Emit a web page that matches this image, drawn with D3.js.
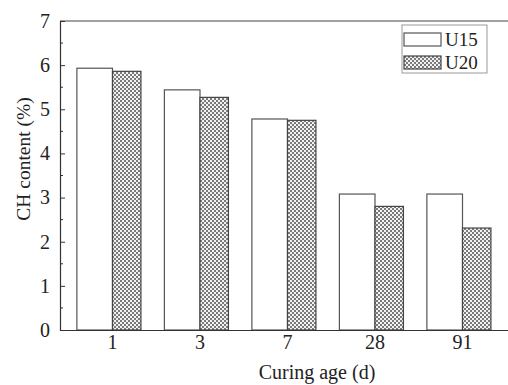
<!DOCTYPE html>
<html><head><meta charset="utf-8">
<script src="https://cdn.jsdelivr.net/npm/d3@7"></script>
<style>body{margin:0;background:#fff}svg{display:block}</style>
</head><body><div id="chart"></div>
<script>
const categories = ["1", "3", "7", "28", "91"];
const seriesNames = ["U15", "U20"];
const u15 = [5.93, 5.44, 4.78, 3.08, 3.08];
const u20 = [5.86, 5.27, 4.75, 2.80, 2.31];
const yTicks = [0, 1, 2, 3, 4, 5, 6, 7];

(function () {
const W = 508, H = 385;
const svg = d3.select("#chart").append("svg").attr("width", W).attr("height", H)
  .style("font-family", "'Liberation Serif', 'Times New Roman', serif");

const defs = svg.append("defs");
const pat = defs.append("pattern").attr("id", "chk").attr("patternUnits", "userSpaceOnUse")
  .attr("width", 4).attr("height", 4);
pat.append("rect").attr("width", 4).attr("height", 4).attr("fill", "#f2f2f2");
pat.append("rect").attr("width", 2).attr("height", 2).attr("fill", "#7a7a7a");
pat.append("rect").attr("x", 2).attr("y", 2).attr("width", 2).attr("height", 2).attr("fill", "#7a7a7a");

const mLeft = 60, mTop = 21, mBottom = 330, mRight = 515;
const x = d3.scaleBand().domain(categories).range([mLeft, mRight]).paddingInner(0).paddingOuter(0.1);
const y = d3.scaleLinear().domain([0, 7]).range([mBottom, mTop]);

const step = x.step();
const w15 = step * 0.407, w20 = step * 0.325;

svg.append("line").attr("x1", mLeft).attr("x2", W + 10).attr("y1", mTop).attr("y2", mTop)
  .attr("stroke", "#444").attr("stroke-width", 1.2);

const g = svg.append("g");
g.selectAll(".b15").data(categories).join("rect")
  .attr("x", d => x(d) + step / 2 - w15)
  .attr("y", (d, i) => y(u15[i]))
  .attr("width", w15)
  .attr("height", (d, i) => mBottom - y(u15[i]))
  .attr("fill", "#fff").attr("stroke", "#555").attr("stroke-width", 1.2);
g.selectAll(".b20").data(categories).join("rect")
  .attr("x", d => x(d) + step / 2)
  .attr("y", (d, i) => y(u20[i]))
  .attr("width", w20)
  .attr("height", (d, i) => mBottom - y(u20[i]))
  .attr("fill", "url(#chk)").attr("stroke", "#444").attr("stroke-width", 1.2);

const yAxis = d3.axisLeft(y).tickValues(yTicks).tickSize(-5).tickPadding(10).tickFormat(d3.format("d"));
const ya = svg.append("g").attr("transform", `translate(${mLeft},0)`).call(yAxis);
ya.select(".domain").attr("stroke", "#333").attr("stroke-width", 1.2);
ya.selectAll(".tick line").attr("stroke", "#333");
ya.selectAll(".tick text").attr("font-size", 20).attr("fill", "#222")
  .attr("font-family", "'Liberation Serif', serif");
const minor = d3.range(0.5, 7, 1);
svg.append("g").selectAll("line").data(minor).join("line")
  .attr("x1", mLeft).attr("x2", mLeft + 3).attr("y1", d => y(d)).attr("y2", d => y(d))
  .attr("stroke", "#333");

const xAxis = d3.axisBottom(x).tickSize(0).tickPadding(5);
const xa = svg.append("g").attr("transform", `translate(0,${mBottom})`).call(xAxis);
xa.select(".domain").attr("stroke", "#333").attr("stroke-width", 1.2);
xa.selectAll(".tick text").attr("font-size", 20).attr("fill", "#222")
  .attr("font-family", "'Liberation Serif', serif");

svg.append("text").attr("x", 317).attr("y", 379).attr("text-anchor", "middle")
  .attr("font-size", 20).attr("fill", "#222").text("Curing age (d)");
svg.append("text").attr("transform", "translate(30,159) rotate(-90)").attr("text-anchor", "middle")
  .attr("font-size", 19.5).attr("fill", "#222").text("CH content (%)");

const lg = svg.append("g");
lg.append("rect").attr("x", 402).attr("y", 25).attr("width", 85).attr("height", 48)
  .attr("fill", "#fff").attr("stroke", "#999").attr("stroke-width", 1);
const fills = ["#fff", "url(#chk)"];
const strokes = ["#555", "#444"];
seriesNames.forEach((n, i) => {
  const yy = 33 + i * 23;
  lg.append("rect").attr("x", 404).attr("y", yy).attr("width", 37).attr("height", 13)
    .attr("fill", fills[i]).attr("stroke", strokes[i]).attr("stroke-width", 1.2);
  lg.append("text").attr("x", 445).attr("y", yy + 13).attr("font-size", 19).attr("fill", "#222").text(n);
});
})();
</script></body></html>
